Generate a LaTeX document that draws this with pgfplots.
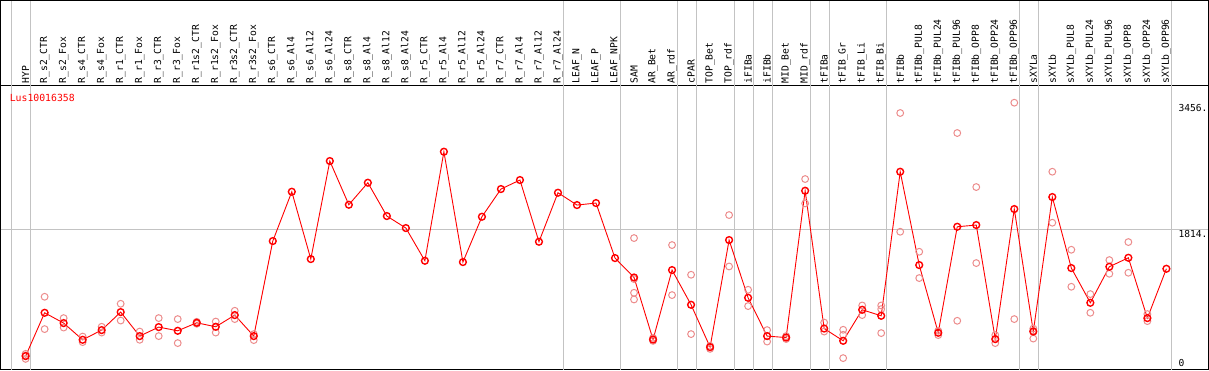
\documentclass[border=0pt]{standalone}
\usepackage{pgfplots}
\pgfplotsset{compat=1.18}
\usepackage{fontspec}
\newfontfamily\monofont{DejaVu Sans Mono}
\definecolor{repcol}{RGB}{236,140,140}
\definecolor{sepgray}{RGB}{195,195,195}
\begin{document}
\begin{tikzpicture}
\begin{axis}[
  scale only axis, width=1207pt, height=284pt,
  xmin=-1.3158, xmax=62.21, ymin=-15.6, ymax=3677.5,
  axis line style={black, line width=1.2pt},
  xtick={0,...,60},
  xticklabels={HYP,R\_s2\_CTR,R\_s2\_Fox,R\_s4\_CTR,R\_s4\_Fox,R\_r1\_CTR,R\_r1\_Fox,R\_r3\_CTR,R\_r3\_Fox,R\_r1s2\_CTR,R\_r1s2\_Fox,R\_r3s2\_CTR,R\_r3s2\_Fox,R\_s6\_CTR,R\_s6\_Al4,R\_s6\_Al12,R\_s6\_Al24,R\_s8\_CTR,R\_s8\_Al4,R\_s8\_Al12,R\_s8\_Al24,R\_r5\_CTR,R\_r5\_Al4,R\_r5\_Al12,R\_r5\_Al24,R\_r7\_CTR,R\_r7\_Al4,R\_r7\_Al12,R\_r7\_Al24,LEAF\_N,LEAF\_P,LEAF\_NPK,SAM,AR\_Bet,AR\_rdf,cPAR,TOP\_Bet,TOP\_rdf,iFIBa,iFIBb,MID\_Bet,MID\_rdf,tFIBa,tFIB\_Gr,tFIB\_Li,tFIB\_Bi,tFIBb,tFIBb\_PUL8,tFIBb\_PUL24,tFIBb\_PUL96,tFIBb\_OPP8,tFIBb\_OPP24,tFIBb\_OPP96,sXYLa,sXYLb,sXYLb\_PUL8,sXYLb\_PUL24,sXYLb\_PUL96,sXYLb\_OPP8,sXYLb\_OPP24,sXYLb\_OPP96},
  xticklabel pos=upper,
  x tick label style={rotate=90, anchor=west, inner sep=0pt, font=\monofont\fontsize{9.7}{10}\selectfont},
  xticklabel shift=2pt,
  major tick length=0pt,
  ytick=\empty,
  clip=false,
]
\draw[sepgray, line width=0.9pt] (axis cs:-1.3158,1814) -- (axis cs:62.21,1814);
\pgfplotsinvokeforeach{-0.737,0.263,28.263,31.263,34.263,35.263,37.263,38.263,39.263,41.263,42.263,45.263,52.263,53.263,60.263}{
  \draw[sepgray, line width=0.9pt] (axis cs:#1,-15.6) -- (axis cs:#1,3677.5) -- ++(0pt,85pt);
}
\draw[black, line width=1.2pt] (rel axis cs:0,1) -- ++(0pt,85pt) -- ([yshift=85pt]rel axis cs:1,1) -- (rel axis cs:1,1);

\addplot[only marks, mark=o, mark size=3.4pt, repcol, mark options={line width=1pt}] coordinates {
(0,192) (0,127) (0,170)
(1,934) (1,514)
(2,657) (2,534)
(3,417) (3,345)
(4,544) (4,469)
(5,843) (5,625)
(6,482) (6,375)
(7,657) (7,423)
(8,644) (8,332)
(9,609) (9,583)
(10,612) (10,469)
(11,752) (11,644)
(12,449) (12,371)
(32,1697) (32,1164) (32,986) (32,899)
(33,400) (33,361)
(34,1606) (34,956)
(35,1220) (35,449)
(36,296) (36,257)
(37,1996) (37,1328)
(38,1025) (38,813)
(39,501) (39,352)
(40,423) (40,385)
(41,2464) (41,2147)
(42,599) (42,482)
(43,505) (43,440) (43,137)
(44,821) (44,696)
(45,821) (45,774) (45,462)
(46,3322) (46,1779)
(47,1519) (47,1177)
(48,492) (48,436)
(49,3062) (49,622)
(50,2360) (50,1372)
(51,436) (51,332)
(52,3456) (52,644)
(53,521) (53,492) (53,391)
(54,2559) (54,1896)
(55,1545) (55,1064)
(56,969) (56,726)
(57,1411) (57,1233)
(58,1645) (58,1246)
(59,709) (59,618)
};

\addplot[red, line width=0.9pt, mark=o, mark size=3.4pt, mark options={line width=1.4pt, solid}] coordinates {
(0,163) (1,726) (2,592) (3,375) (4,501) (5,735) (6,423) (7,540) (8,492) (9,596)
(10,544) (11,696) (12,423) (13,1658) (14,2299) (15,1424) (16,2698) (17,2130) (18,2416) (19,1983)
(20,1827) (21,1402) (22,2819) (23,1385) (24,1974) (25,2334) (26,2451) (27,1649) (28,2286) (29,2126)
(30,2152) (31,1437) (32,1185) (33,378) (34,1281) (35,830) (36,280) (37,1671) (38,921) (39,423)
(40,404) (41,2312) (42,521) (43,362) (44,765) (45,687) (46,2559) (47,1346) (48,466) (49,1844)
(50,1866) (51,384) (52,2074) (53,482) (54,2230) (55,1307) (56,856) (57,1324) (58,1441) (59,657)
(60,1298)
};

\node[anchor=west, text=red, inner sep=0pt, font=\monofont\fontsize{9.8}{10}\selectfont] at (axis cs:-0.842,3521) {Lus10016358};
\node[anchor=west, inner sep=0pt, font=\monofont\fontsize{9.6}{10}\selectfont] at (axis cs:60.63,3385) {3456.};
\node[anchor=west, inner sep=0pt, font=\monofont\fontsize{9.6}{10}\selectfont] at (axis cs:60.63,1746) {1814.};
\node[anchor=west, inner sep=0pt, font=\monofont\fontsize{9.6}{10}\selectfont] at (axis cs:60.63,69) {0};
\end{axis}
\end{tikzpicture}
\end{document}
